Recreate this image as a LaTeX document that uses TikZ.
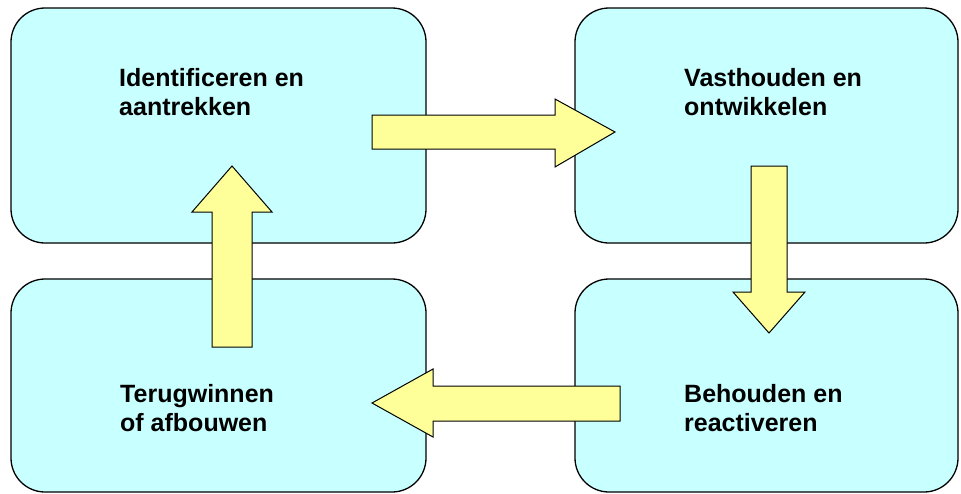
\documentclass[tikz,border=0pt]{standalone}
\usepackage{fontspec}
\setmainfont{Liberation Sans}
\begin{document}
\begin{tikzpicture}[x=1pt,y=-1pt,
  box/.style={draw=black, line width=1.3pt, fill=boxcyan, rounded corners=34pt},
  blockarrow/.style={draw=black, line width=1pt, fill=arrowyellow, line join=miter},
  lbl/.style={anchor=base west, inner sep=0pt, align=left, font=\fontsize{25}{29}\selectfont\bfseries}]
\definecolor{boxcyan}{HTML}{C8FFFF}
\definecolor{arrowyellow}{HTML}{FFFF99}
\useasboundingbox (0,0) rectangle (961,493);
% boxes
\draw[box] (11,8) rectangle (426,243);
\draw[box] (575,8) rectangle (958,243);
\draw[box] (11,279) rectangle (426,492);
\draw[box] (575,279) rectangle (958,492);
% labels (anchor at the baseline of the last line)
\node[lbl] (t1) at (119,115.5) {Identificeren en\\aantrekken};
\node[lbl] (t2) at (684,115) {Vasthouden en\\ontwikkelen};
\node[lbl] (t3) at (120,431) {Terugwinnen\\of afbouwen};
\node[lbl] (t4) at (684,431) {Behouden en\\reactiveren};
% arrows
\draw[blockarrow] (372,115) -- (555,115) -- (555,99) -- (615,132) -- (555,167) -- (555,149) -- (372,149) -- cycle;
\draw[blockarrow] (751,166) -- (787,166) -- (787,292) -- (805,292) -- (769,333) -- (733,292) -- (751,292) -- cycle;
\draw[blockarrow] (620,386) -- (433,386) -- (433,369) -- (372,403) -- (433,437) -- (433,421) -- (620,421) -- cycle;
\draw[blockarrow] (212,347) -- (212,212) -- (192,212) -- (232,166) -- (272,212) -- (252,212) -- (252,347) -- cycle;
\end{tikzpicture}
\end{document}
